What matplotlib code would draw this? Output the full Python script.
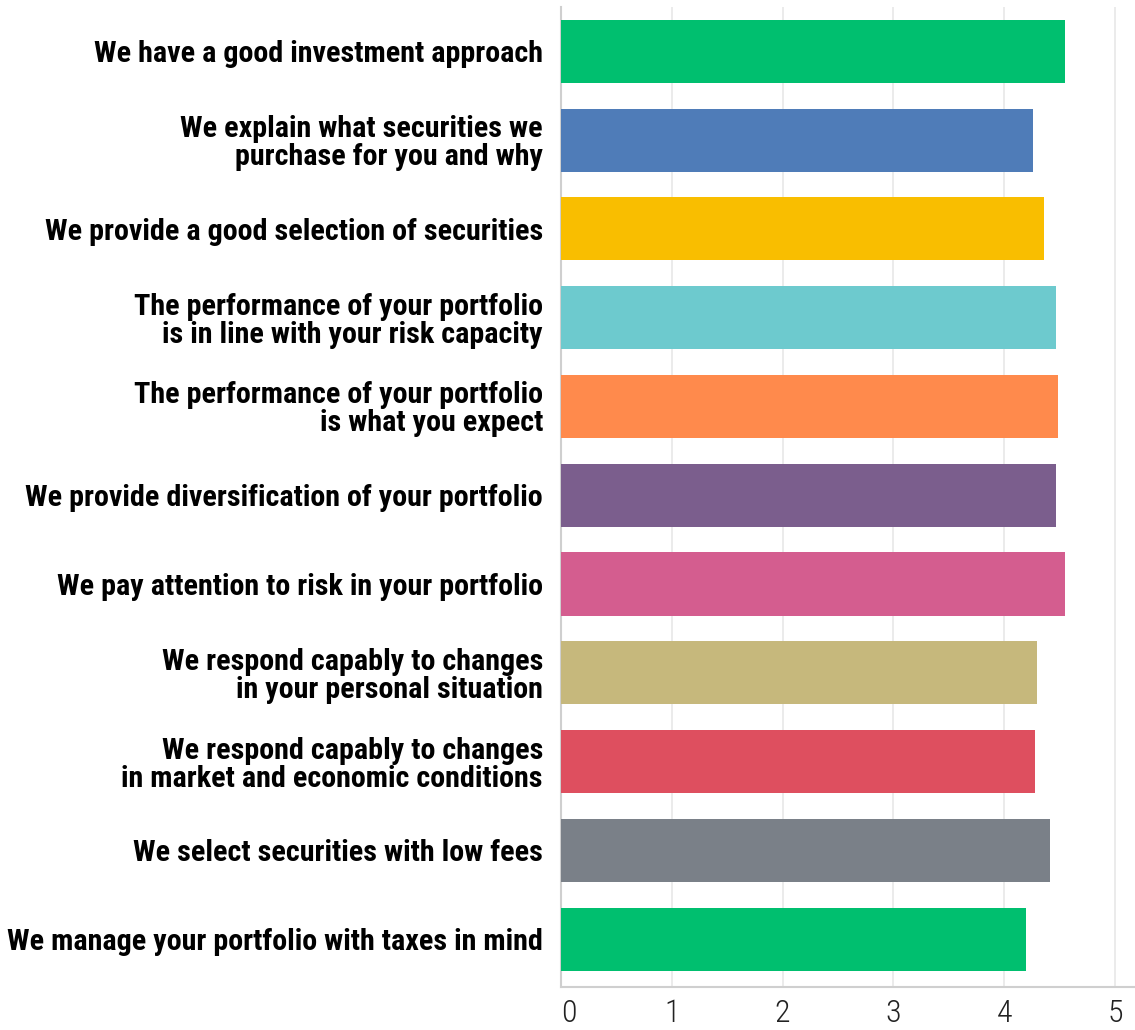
import matplotlib
matplotlib.use("Agg")
import matplotlib.pyplot as plt

statements = [
    "We have a good investment approach",
    "We explain what securities we\npurchase for you and why",
    "We provide a good selection of securities",
    "The performance of your portfolio\nis in line with your risk capacity",
    "The performance of your portfolio\nis what you expect",
    "We provide diversification of your portfolio",
    "We pay attention to risk in your portfolio",
    "We respond capably to changes\nin your personal situation",
    "We respond capably to changes\nin market and economic conditions",
    "We select securities with low fees",
    "We manage your portfolio with taxes in mind",
]
scores = [4.55, 4.26, 4.36, 4.47, 4.49, 4.47, 4.55, 4.30, 4.28, 4.41, 4.20]
bar_colors = ["#00BF6F", "#4F7CB8", "#F9BE00", "#6DCACE", "#FF8A4C", "#7B5E8D",
              "#D45D8F", "#C6B87C", "#DE4F5F", "#7A8088", "#00BF6F"]
x_ticks = [0, 1, 2, 3, 4, 5]

condensed = ["Roboto Condensed", "Barlow Condensed", "Archivo Narrow", "DejaVu Sans"]

W, H = 1135, 1030
fig = plt.figure(figsize=(W / 100, H / 100), dpi=100)
ax = fig.add_axes([561 / W, 1 - 987 / H, (W - 561) / W, (987 - 7) / H])

ypos = list(range(len(statements)))
ax.barh(ypos, scores, height=0.71, color=bar_colors, zorder=3)

ax.set_xlim(0, (W - 561) / 110.8)
ax.set_ylim(10.54, -0.50)

ax.set_xticks(x_ticks)
ax.set_xticklabels([str(t) for t in x_ticks], family=condensed,
                   fontsize=23, fontweight=300, color="#222222")
ax.get_xticklabels()[0].set_horizontalalignment("left")
ax.set_yticks(ypos)
ax.set_yticklabels(statements, family=condensed,
                   fontsize=21.7, fontweight="bold", color="#000000", linespacing=1.0)
ax.tick_params(axis="x", length=0, pad=9)
ax.tick_params(axis="y", length=0, pad=13)

ax.grid(axis="x", color="#e8e8e8", linewidth=1.2, zorder=0)
ax.grid(axis="y", visible=False)

for side in ("top", "right"):
    ax.spines[side].set_visible(False)
ax.spines["left"].set_color("#cfcfcf")
ax.spines["left"].set_linewidth(1.5)
ax.spines["bottom"].set_color("#cfcfcf")
ax.spines["bottom"].set_linewidth(1.5)

fig.savefig("out.png", dpi=100, facecolor="white")
